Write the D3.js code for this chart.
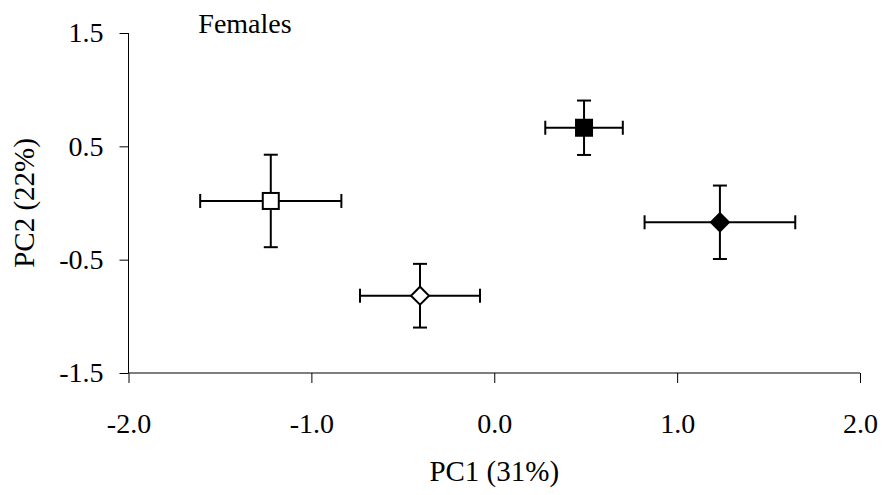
<!DOCTYPE html>
<html>
<head>
<meta charset="utf-8">
<script src="https://cdn.jsdelivr.net/npm/d3@7"></script>
<style>
  html, body { margin: 0; padding: 0; background: #fff; }
  svg { display: block; }
  text { font-family: "Liberation Serif", "Times New Roman", serif; fill: #000; }
</style>
</head>
<body>
<svg id="chart" width="885" height="495"></svg>
<script>
// Data
const groups   = ["open square", "open diamond", "filled square", "filled diamond"];
const pc1      = [-1.222, -0.406, 0.491, 1.234];
const pc2      = [0.018, -0.818, 0.664, -0.170];
const pc1Err   = [0.386, 0.328, 0.212, 0.412];
const pc2Err   = [0.408, 0.281, 0.240, 0.324];
const shapes   = ["square", "diamond", "square", "diamond"];
const fills    = ["#ffffff", "#ffffff", "#000000", "#000000"];
const xTicks   = [-2.0, -1.0, 0.0, 1.0, 2.0];
const yTicks   = [-1.5, -0.5, 0.5, 1.5];
const xTitle   = "PC1 (31%)";
const yTitle   = "PC2 (22%)";
const panelTitle = "Females";

const svg = d3.select("#chart");
const pLeft = 128.5, pRight = 860, pTop = 33, pBottom = 373;

const x = d3.scaleLinear().domain([-2, 2]).range([pLeft, pRight]);
const y = d3.scaleLinear().domain([-1.5, 1.5]).range([pBottom, pTop]);
const fmt = d => d.toFixed(1);  // plain hyphen-minus, as in the reference

// Y axis
const yAxis = svg.append("g")
  .attr("transform", `translate(${pLeft},0)`)
  .call(d3.axisLeft(y).tickValues(yTicks).tickSize(9).tickPadding(16).tickFormat(fmt));
yAxis.select(".domain").attr("stroke", "#000").attr("stroke-width", 1)
  .attr("d", `M0,${pTop}V${pBottom}`);
yAxis.selectAll(".tick line").attr("stroke", "#000");
yAxis.selectAll("text").style("font-size", "28px")
  .style("font-family", "'Liberation Serif', 'Times New Roman', serif");

// X axis
const xAxis = svg.append("g")
  .attr("transform", `translate(0,${pBottom})`)
  .call(d3.axisBottom(x).tickValues(xTicks).tickSize(10).tickPadding(30).tickFormat(fmt));
xAxis.select(".domain").attr("stroke", "#000").attr("stroke-width", 1.2)
  .attr("d", `M${pLeft},0H${pRight}`);
xAxis.selectAll(".tick line").attr("stroke", "#000");
xAxis.selectAll("text").style("font-size", "28px")
  .style("font-family", "'Liberation Serif', 'Times New Roman', serif")
  .attr("dy", null).attr("y", 60);

// Axis titles
svg.append("text")
  .attr("x", (pLeft + pRight) / 2).attr("y", 481)
  .attr("text-anchor", "middle").style("font-size", "29px")
  .text(xTitle);

svg.append("text")
  .attr("transform", `translate(34,${(pTop + pBottom) / 2}) rotate(-90)`)
  .attr("text-anchor", "middle").style("font-size", "29px")
  .text(yTitle);

svg.append("text")
  .attr("x", 245).attr("y", 33)
  .attr("text-anchor", "middle").style("font-size", "28px")
  .text(panelTitle);

// Error bars and markers
const data = groups.map((g, i) => ({
  g, x: pc1[i], y: pc2[i], ex: pc1Err[i], ey: pc2Err[i], shape: shapes[i], fill: fills[i]
}));

const cap = 7;
const eb = svg.append("g").attr("stroke", "#000").attr("stroke-width", 2).attr("fill", "none");
data.forEach(d => {
  const cx = x(d.x), cy = y(d.y);
  const x0 = x(d.x - d.ex), x1 = x(d.x + d.ex);
  const y0 = y(d.y + d.ey), y1 = y(d.y - d.ey);
  eb.append("line").attr("x1", x0).attr("x2", x1).attr("y1", cy).attr("y2", cy);
  eb.append("line").attr("x1", x0).attr("x2", x0).attr("y1", cy - cap).attr("y2", cy + cap);
  eb.append("line").attr("x1", x1).attr("x2", x1).attr("y1", cy - cap).attr("y2", cy + cap);
  eb.append("line").attr("x1", cx).attr("x2", cx).attr("y1", y0).attr("y2", y1);
  eb.append("line").attr("x1", cx - cap).attr("x2", cx + cap).attr("y1", y0).attr("y2", y0);
  eb.append("line").attr("x1", cx - cap).attr("x2", cx + cap).attr("y1", y1).attr("y2", y1);
});

const mk = svg.append("g");
data.forEach(d => {
  const cx = x(d.x), cy = y(d.y);
  if (d.shape === "square") {
    const s = 16;
    mk.append("rect").attr("x", cx - s / 2).attr("y", cy - s / 2)
      .attr("width", s).attr("height", s)
      .attr("fill", d.fill).attr("stroke", "#000").attr("stroke-width", 2);
  } else {
    const r = 9;
    mk.append("path")
      .attr("d", `M${cx},${cy - r}L${cx + r},${cy}L${cx},${cy + r}L${cx - r},${cy}Z`)
      .attr("fill", d.fill).attr("stroke", "#000").attr("stroke-width", 2);
  }
});
</script>
</body>
</html>
